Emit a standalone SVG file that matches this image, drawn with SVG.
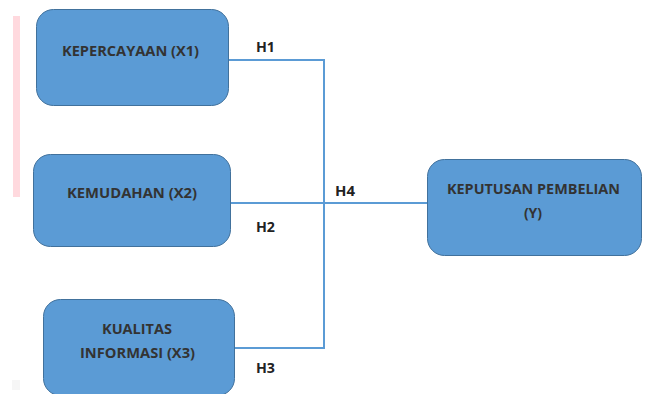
<svg xmlns="http://www.w3.org/2000/svg" width="645" height="394" viewBox="0 0 645 394">
<style>
.box{fill:#5B9BD5;stroke:#41719C;stroke-width:1}
.lbl{font-family:"Open Sans","Liberation Sans",sans-serif;font-weight:bold;font-size:14px;fill:#333333;text-anchor:middle}
.h{font-family:"Open Sans","Liberation Sans",sans-serif;font-weight:bold;font-size:13.5px;fill:#222222}
.conn{fill:none;stroke:#5B9BD5;stroke-width:2}
</style>
<rect width="645" height="394" fill="#ffffff"/>
<rect x="13" y="16" width="7" height="181" fill="#FFD9DE"/>
<rect x="12" y="380" width="8" height="10" fill="#F6F6F6"/>
<g id="connectors">
<polyline class="conn" points="229,60 324,60 324,348 235,348"/>
<line class="conn" x1="231" y1="203" x2="427" y2="203"/>
</g>
<g id="x1">
<rect class="box" x="36.5" y="9.5" width="192" height="96" rx="17"/>
<text class="lbl" x="130.5" y="56" textLength="137" lengthAdjust="spacingAndGlyphs">KEPERCAYAAN (X1)</text>
</g>
<g id="x2">
<rect class="box" x="33.5" y="154.5" width="197" height="92" rx="17"/>
<text class="lbl" x="132" y="198" textLength="130" lengthAdjust="spacingAndGlyphs">KEMUDAHAN (X2)</text>
</g>
<g id="x3">
<rect class="box" x="43.5" y="299.5" width="191" height="96" rx="17"/>
<text class="lbl" x="137" y="334" textLength="70" lengthAdjust="spacingAndGlyphs">KUALITAS</text>
<text class="lbl" x="137.5" y="358" textLength="115" lengthAdjust="spacingAndGlyphs">INFORMASI (X3)</text>
</g>
<g id="y">
<rect class="box" x="427.5" y="159.5" width="214" height="96" rx="17"/>
<text class="lbl" x="533.5" y="194" textLength="173" lengthAdjust="spacingAndGlyphs">KEPUTUSAN PEMBELIAN</text>
<text class="lbl" x="533" y="218">(Y)</text>
</g>
<g id="labels">
<text class="h" x="256" y="52" textLength="19" lengthAdjust="spacingAndGlyphs">H1</text>
<text class="h" x="256" y="232" textLength="19" lengthAdjust="spacingAndGlyphs">H2</text>
<text class="h" x="256" y="373" textLength="19" lengthAdjust="spacingAndGlyphs">H3</text>
<text class="h" x="335" y="196" textLength="20" lengthAdjust="spacingAndGlyphs">H4</text>
</g>
</svg>
